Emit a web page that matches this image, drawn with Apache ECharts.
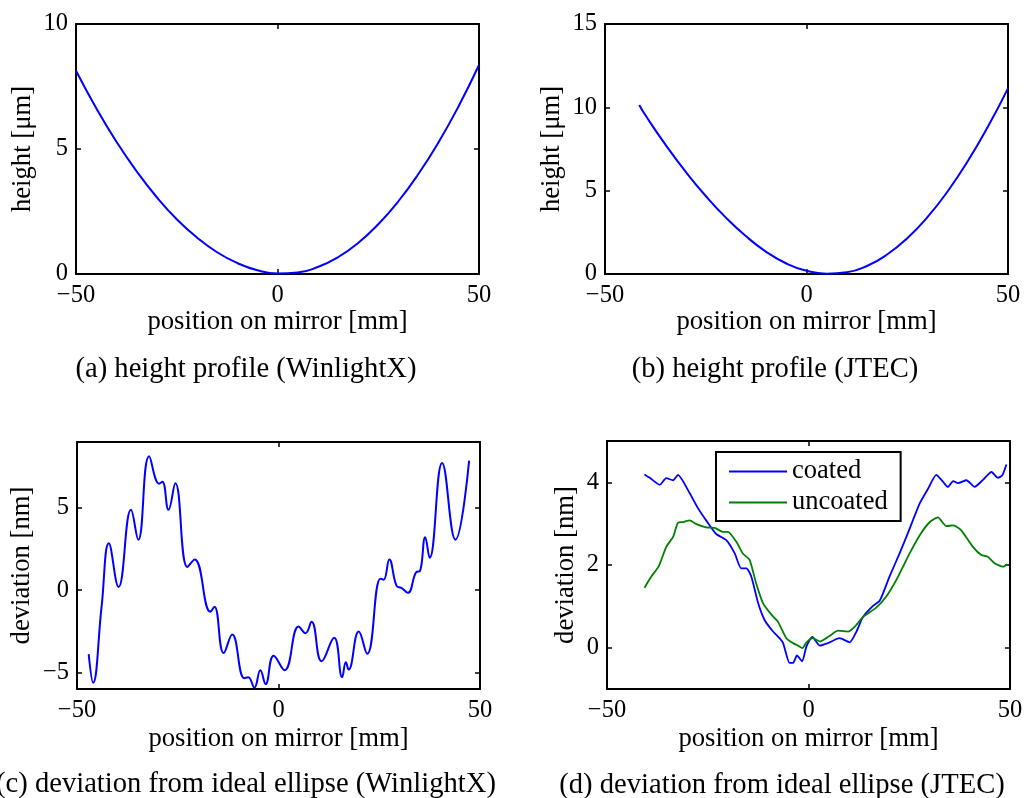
<!DOCTYPE html>
<html>
<head>
<meta charset="utf-8">
<script src="https://cdn.jsdelivr.net/npm/echarts@6/dist/echarts.min.js"></script>
<style>
html,body{margin:0;padding:0;background:#fff;}
#chart{width:1026px;height:798px;}
</style>
</head>
<body>
<div id="chart"></div>
<script>
// ---- data ----
const posA = [-50,-45,-40,-35,-30,-25,-20,-15,-10,-5,0,5,10,15,20,25,30,35,40,45,50];
const heightA = [8.13,6.64,5.30,4.12,3.08,2.19,1.46,0.87,0.44,0.15,0.02,0.06,0.28,0.67,1.24,1.99,2.91,4.01,5.28,6.73,8.36];

const posB = [-41.5,-40,-35,-30,-25,-20,-15,-10,-5,0,5,10,15,20,25,30,35,40,45,50];
const heightB = [10.14,9.54,7.76,6.14,4.68,3.38,2.26,1.33,0.63,0.19,0.02,0.10,0.48,1.17,2.15,3.41,4.95,6.76,8.83,11.14];

const posC = [-47.1,-46.0,-43.9,-42.1,-39.7,-36.6,-34.8,-32.1,-29.6,-28.8,-27.3,-25.6,-22.6,-20.8,-16.9,-15.9,-13.6,-11.5,-8.5,-7.5,-6.0,-4.5,-3.2,-1.2,1.5,5.0,6.7,8.2,10.7,13.8,15.8,16.7,17.4,19.9,22.0,25.3,26.1,27.5,29.3,30.5,32.1,34.2,35.1,36.4,37.5,40.6,43.9,47.3];
const devC = [-3.88,-5.62,-1.0,2.85,0.2,4.88,3.07,8.13,6.47,6.59,4.88,6.49,1.41,1.87,-1.31,-1.0,-3.82,-2.69,-5.34,-5.28,-5.92,-4.86,-5.70,-3.98,-4.86,-2.21,-2.61,-1.91,-4.32,-2.89,-5.28,-4.38,-4.82,-2.51,-3.86,0.70,0.64,1.87,0.26,0.14,-0.16,1.10,1.16,3.21,1.97,7.73,3.07,7.87];

const posCoated = [-40.7,-39.4,-36.9,-35.3,-33.6,-32.4,-29.5,-27.4,-25.4,-22.9,-20.4,-18.3,-16.7,-15.4,-14.2,-12.5,-10.9,-8.8,-7.2,-6.3,-4.7,-3.85,-2.85,-1.6,-0.5,0.95,2.8,4.8,7.7,10.2,11.9,13.5,16.0,17.7,20.1,22.6,25.1,27.6,29.7,31.7,33.4,34.6,35.9,37.1,39.2,41.2,43.3,45.4,47.0,48.1,49.1];
const devCoated = [4.19,4.11,3.94,4.10,4.05,4.18,3.74,3.37,3.08,2.75,2.60,2.28,1.92,1.92,1.72,1.08,0.67,0.39,0.23,0.11,-0.37,-0.37,-0.19,-0.33,0.03,0.26,0.05,0.11,0.23,0.13,0.39,0.74,1.01,1.14,1.72,2.28,2.88,3.49,3.85,4.18,4.01,3.89,4.03,3.98,4.05,3.89,4.06,4.25,4.11,4.17,4.43];

const posUncoated = [-40.7,-39.0,-37.1,-35.3,-33.6,-32.4,-31.1,-29.5,-27.8,-25.4,-23.3,-21.2,-20.0,-17.9,-16.3,-14.6,-13.0,-11.3,-9.2,-7.6,-5.5,-3.85,-2.6,-1.5,-0.5,1.1,2.8,5.3,7.3,9.8,11.5,13.5,16.8,19.3,21.8,25.1,27.6,30.1,32.1,34.2,35.9,37.9,40.8,42.9,44.5,46.2,48.3,49.3];
const devUncoated = [1.45,1.72,1.98,2.44,2.68,3.02,3.04,3.08,2.99,2.91,2.90,2.80,2.80,2.56,2.28,2.12,1.56,1.08,0.80,0.63,0.23,0.11,0.05,-0.01,0.13,0.23,0.15,0.29,0.41,0.39,0.51,0.74,0.97,1.24,1.64,2.28,2.72,3.04,3.15,2.94,2.96,2.84,2.44,2.24,2.20,2.04,1.96,2.02];

const xTicks = [-50, 0, 50];
const yTicksA = [0, 5, 10];
const yTicksB = [0, 5, 10, 15];
const yTicksC = [-5, 0, 5];
const yTicksD = [0, 2, 4];

const xName = 'position on mirror [mm]';
const yNameH = 'height [μm]';
const yNameD = 'deviation [nm]';
const captions = ['(a) height profile (WinlightX)', '(b) height profile (JTEC)',
  '(c) deviation from ideal ellipse (WinlightX)', '(d) deviation from ideal ellipse (JTEC)'];
const legendNames = ['coated', 'uncoated'];

// ---- chart ----
const FONT = '"Liberation Serif", "Times New Roman", serif';
const zip = (xs, ys) => xs.map((x, i) => [x, ys[i]]);
const fmt = v => String(v).replace('-', '\u2212');

const grids = [
  {left: 76, top: 24, width: 403, height: 250},
  {left: 605, top: 24, width: 403, height: 250},
  {left: 77, top: 442, width: 403, height: 247},
  {left: 607, top: 441, width: 403, height: 248}
];

const lineStyleAxis = {color: '#000', width: 2};
const tickStyle = {show: true, inside: true, length: 5, lineStyle: {color: '#000', width: 1.5}};
const labelStyle = {color: '#000', fontFamily: FONT, fontSize: 24.5, formatter: fmt};
const nameStyle = {color: '#000', fontFamily: FONT, fontSize: 26.7};

function xAxesFor(gi, ticks, nameGap) {
  const base = {type: 'value', gridIndex: gi, min: ticks[0], max: ticks[ticks.length - 1],
    splitLine: {show: false}, axisLine: {show: true, onZero: false, lineStyle: lineStyleAxis}};
  return [
    Object.assign({}, base, {
      position: 'bottom',
      axisTick: Object.assign({customValues: ticks}, tickStyle),
      axisLabel: Object.assign({customValues: ticks, margin: 9}, labelStyle),
      name: xName, nameLocation: 'middle', nameGap: nameGap, nameTextStyle: nameStyle
    }),
    Object.assign({}, base, {
      position: 'top',
      axisTick: Object.assign({customValues: ticks}, tickStyle),
      axisLabel: {show: false}
    })
  ];
}
function yAxesFor(gi, min, max, ticks, nameGap, name) {
  const base = {type: 'value', gridIndex: gi, min: min, max: max,
    splitLine: {show: false}, axisLine: {show: true, onZero: false, lineStyle: lineStyleAxis}};
  return [
    Object.assign({}, base, {
      position: 'left',
      axisTick: Object.assign({customValues: ticks}, tickStyle),
      axisLabel: Object.assign({customValues: ticks, margin: 8}, labelStyle),
      name: name, nameLocation: 'middle', nameGap: nameGap, nameTextStyle: nameStyle
    }),
    Object.assign({}, base, {
      position: 'right',
      axisTick: Object.assign({customValues: ticks}, tickStyle),
      axisLabel: {show: false}
    })
  ];
}

const xAxis = [].concat(
  xAxesFor(0, xTicks, 34), xAxesFor(1, xTicks, 34),
  xAxesFor(2, xTicks, 36), xAxesFor(3, xTicks, 36));
const yAxis = [].concat(
  yAxesFor(0, 0, 10, yTicksA, 40, yNameH),
  yAxesFor(1, 0, 15, yTicksB, 40, yNameH),
  yAxesFor(2, -6, 9, yTicksC, 42, yNameD),
  yAxesFor(3, -1, 5, yTicksD, 28, yNameD));

function lineSeries(name, xi, yi, data, color, width, smooth) {
  return {type: 'line', name: name, xAxisIndex: xi, yAxisIndex: yi, data: data,
    showSymbol: false, symbol: 'none', smooth: smooth, animation: false,
    lineStyle: {color: color, width: width}, itemStyle: {color: color}};
}

const series = [
  lineSeries('a', 0, 0, zip(posA, heightA), '#0000ff', 2, 0.5),
  lineSeries('b', 2, 2, zip(posB, heightB), '#0000ff', 2, 0.5),
  lineSeries('c', 4, 4, zip(posC, devC), '#0000ff', 2, 0.45),
  lineSeries(legendNames[0], 6, 6, zip(posCoated, devCoated), '#0000ff', 1.8, 0.2),
  lineSeries(legendNames[1], 6, 6, zip(posUncoated, devUncoated), '#008000', 1.8, 0.2)
];

const capPos = [[246, 369], [775, 369], [246, 784], [782, 785]];
const graphic = captions.map((t, i) => ({
  type: 'text', x: capPos[i][0], y: capPos[i][1], silent: true,
  style: {text: t, fill: '#000', font: '28.6px ' + FONT, align: 'center', verticalAlign: 'middle'}
}));

const chart = echarts.init(document.getElementById('chart'), null, {renderer: 'canvas'});
chart.setOption({
  animation: false,
  backgroundColor: '#fff',
  grid: grids,
  xAxis: xAxis,
  yAxis: yAxis,
  series: series,
  legend: {
    data: legendNames.map(n => ({name: n, icon: 'rect'})),
    orient: 'vertical', left: 716, top: 452,
    itemWidth: 58, itemHeight: 2, itemGap: 4,
    padding: [6, 13, 5, 13],
    borderColor: '#000', borderWidth: 2, backgroundColor: '#fff',
    textStyle: {color: '#000', fontFamily: FONT, fontSize: 26.5, lineHeight: 26},
    selectedMode: false
  },
  graphic: graphic
});
</script>
</body>
</html>
